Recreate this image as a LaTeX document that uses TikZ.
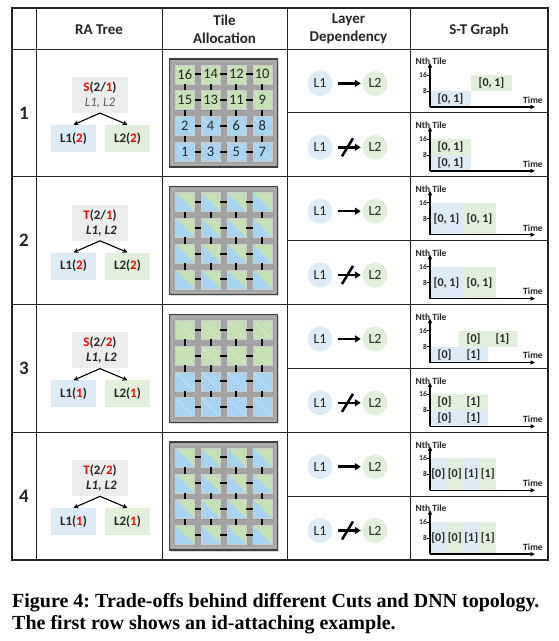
\documentclass[tikz,border=0pt]{standalone}
\usepackage{fontspec}
\setmainfont{Carlito}
\newfontfamily\capserif{Liberation Serif}
\usepackage[HTML]{xcolor}
\usepackage{tikz}
\usetikzlibrary{positioning, arrows.meta, shadows}

\definecolor{boxblue}{HTML}{DDEBF7}
\definecolor{boxgreen}{HTML}{E2EFDA}
\definecolor{boxgray}{HTML}{EDEDED}
\definecolor{tileblue}{HTML}{A6D4F2}
\definecolor{tilegreen}{HTML}{C5E0B3}
\definecolor{meshgray}{HTML}{A3A3A3}
\definecolor{cutred}{HTML}{FF0000}
\definecolor{ink}{HTML}{262626}
\definecolor{softink}{HTML}{595959}

% RA tree: id, row centre, cut, parts, leaf count, font of the layer line
\newcommand{\ratree}[6]{
  \node[rootbox] (root#1) at (100,#2-18) {\textcolor{cutred}{#3}(2/\textcolor{cutred}{#4})\\\itshape#6 L1, L2};
  \node[leafbox, fill=boxblue] (leafa#1) at (73.5,#2+25.5) {L1(\textcolor{cutred}{#5})};
  \node[leafbox, fill=boxgreen] (leafb#1) at (127.5,#2+25.5) {L2(\textcolor{cutred}{#5})};
  \draw[treearrow] (root#1.south) -- (leafa#1.north);
  \draw[treearrow] (root#1.south) -- (leafb#1.north);
}

% tile mesh: id, row centre, upper tiles, lower tiles
\newcommand{\tilemesh}[4]{
  \draw[meshframe] (169.5,#2-54) rectangle (277.5,#2+54);
  \draw[meshinner] (172,#2-51.5) rectangle (275,#2+51.5);
  \foreach \ti in {0,1} \foreach \tj in {0,...,3}
    \node[#3] (#1-\ti-\tj) at (184.8+25.8*\tj,#2-38.7+25.8*\ti) {};
  \foreach \ti in {2,3} \foreach \tj in {0,...,3}
    \node[#4] (#1-\ti-\tj) at (184.8+25.8*\tj,#2-38.7+25.8*\ti) {};
  \foreach \ti in {0,...,3} \foreach \tj/\tk in {0/1,1/2,2/3} {
    \draw[meshlink] (#1-\ti-\tj.east) -- (#1-\ti-\tk.west);
    \draw[meshlink] (#1-\tj-\ti.south) -- (#1-\tk-\ti.north);
  }
}

% layer dependency: id, centre; the cut version strikes the arrow
\newcommand{\layerdep}[2]{
  \node[layercircle, fill=boxblue] (la#1) at (320,#2) {L1};
  \node[layercircle, fill=boxgreen] (lb#1) at (375,#2) {L2};
  \draw[deparrow] (la#1) -- coordinate[pos=0.5] (mid#1) (lb#1);
}
\newcommand{\layercut}[2]{
  \layerdep{#1}{#2}
  \draw[cutbar] ([shift={(-5.5,9)}]mid#1) -- ([shift={(5.5,-9)}]mid#1);
}

% S-T graph: id, top of the sub-row, blocks as x0/x1/t0/t1/colour/label
\newcommand{\stgraph}[3]{
  \foreach \xa/\xb/\ta/\tb/\fc/\lab [count=\k] in {#3}
    \node[stblock, fill=\fc, minimum width=\xb-\xa, minimum height=2*\tb-2*\ta] (blk#1-\k) at (430+\xa/2+\xb/2,#2+58-\ta-\tb) {\lab};
  \coordinate (o#1) at (430,#2+58);
  \coordinate (ytop#1) at (430,#2+14);
  \coordinate (xend#1) at (535,#2+58);
  \draw[stgraphaxis] (o#1) -- (ytop#1);
  \draw[stgraphaxis] (o#1) -- (xend#1);
  \foreach \tv in {8,16} {
    \node[ticklabel] (tk#1-\tv) at (427,#2+58-2*\tv) {\tv};
    \draw[line width=0.6] (tk#1-\tv.east) -- ++(3,0);
  }
  \node[axislabel] (ylab#1) at (431,#2+12.5) {Nth Tile};
  \node[axislabel] (xlab#1) at (533,#2+51) {Time};
}

\begin{document}
\frenchspacing
\begin{tikzpicture}[x=1pt, y=-1pt,
  colhead/.style={font=\bfseries\fontsize{15}{18}\selectfont, align=center, text=ink},
  rownum/.style={font=\bfseries\fontsize{19}{22}\selectfont, text=ink},
  tableframe/.style={line width=1.6, draw=ink},
  tablerule/.style={line width=1, draw=ink},
  rootbox/.style={fill=boxgray, minimum width=56, minimum height=36, inner sep=0, align=center, text=ink, font=\bfseries\fontsize{13}{15}\selectfont},
  leafbox/.style={minimum width=45, minimum height=27, inner sep=0, text=ink, font=\bfseries\fontsize{13}{15}\selectfont},
  treearrow/.style={-{Stealth[length=5pt, width=5pt]}, line width=1.1},
  meshframe/.style={fill=meshgray, draw=black!75, line width=1.4, drop shadow={shadow xshift=1.5pt, shadow yshift=-1.5pt, opacity=0.3}},
  meshinner/.style={draw=black!30, line width=0.8},
  meshtile/.style={minimum size=19, inner sep=0, draw=white!60!gray, line width=0.4, drop shadow={shadow xshift=1pt, shadow yshift=-1pt, opacity=0.35}},
  greentile/.style={meshtile, fill=tilegreen, path picture={\draw[white, opacity=0.5, line width=0.4] (path picture bounding box.north west) -- (path picture bounding box.south east);}},
  bluetile/.style={meshtile, fill=tileblue, path picture={\draw[white, opacity=0.5, line width=0.4] (path picture bounding box.north west) -- (path picture bounding box.south east);}},
  splittile/.style={meshtile, fill=tilegreen, path picture={\fill[tileblue] (path picture bounding box.north west) -- (path picture bounding box.south east) -- (path picture bounding box.south west) -- cycle;}},
  tilenum/.style={font=\fontsize{14.5}{16}\selectfont, text=ink, inner sep=0},
  meshlink/.style={line width=2, draw=black},
  layercircle/.style={circle, minimum size=25, inner sep=0, text=ink, font=\fontsize{14}{16}\selectfont},
  deparrow/.style={-{Triangle[length=6pt, width=7pt]}, line width=2.5, shorten <=5.5pt, shorten >=1.5pt},
  cutbar/.style={line width=2.5},
  stblock/.style={inner sep=0, text=ink, font=\bfseries\fontsize{12}{14}\selectfont},
  stgraphaxis/.style={-{Triangle[length=4.5pt, width=4pt]}, line width=1.3},
  axislabel/.style={inner sep=0, text=ink, font=\bfseries\fontsize{9.5}{11}\selectfont},
  ticklabel/.style={inner sep=0, anchor=east, text=ink, font=\bfseries\fontsize{7.5}{9}\selectfont},
  captionline/.style={inner sep=0, anchor=base west, text=black, font=\capserif\bfseries\fontsize{20}{23}\selectfont}]
\useasboundingbox (0,0) rectangle (558,641);
\fill[white] (0,0) rectangle (558,641);
% headers
\node[colhead] (hTree) at (99,30) {RA Tree};
\node[colhead] (hTile) at (224.5,29) {Tile\\Allocation};
\node[colhead] (hDep) at (348.5,29) {Layer\\Dependency};
\node[colhead] (hGraph) at (479,30) {S-T Graph};
% row numbers
\foreach \k/\y in {1/112.9, 2/240.6, 3/368.4, 4/496.1}
  \node[rownum] (num\k) at (24,\y) {\k};
% row 1
\ratree{1}{112.9}{S}{1}{2}{\mdseries\color{softink}}
\tilemesh{m1}{112.9}{greentile}{bluetile}
\foreach \n [count=\k from 0] in {16,14,12,10,15,13,11,9,2,4,6,8,1,3,5,7} {
  \pgfmathtruncatemacro\ti{\k/4}
  \pgfmathtruncatemacro\tj{mod(\k,4)}
  \node[tilenum] (n\n) at (m1-\ti-\tj) {\n};
}
\layerdep{1a}{83.4}
\layercut{1b}{147.3}
\stgraph{1a}{49}{0/41/0/8/boxblue/{[0, 1]}, 41/82/8/16/boxgreen/{[0, 1]}}
\stgraph{1b}{112.9}{0/41/0/8/boxblue/{[0, 1]}, 0/41/8/16/boxgreen/{[0, 1]}}
% row 2
\ratree{2}{240.6}{T}{1}{2}{}
\tilemesh{m2}{240.6}{splittile}{splittile}
\layerdep{2a}{211.2}
\layercut{2b}{275}
\stgraph{2a}{176.75}{0/33/0/16/boxblue/{[0, 1]}, 33/66/0/16/boxgreen/{[0, 1]}}
\stgraph{2b}{240.6}{0/33/0/16/boxblue/{[0, 1]}, 33/66/0/16/boxgreen/{[0, 1]}}
% row 3
\ratree{3}{368.4}{S}{2}{1}{}
\tilemesh{m3}{368.4}{greentile}{bluetile}
\layerdep{3a}{338.9}
\layercut{3b}{402.8}
\stgraph{3a}{304.5}{0/58/0/8/boxblue/{[0]\hspace{15pt}[1]}, 29/87/8/16/boxgreen/{[0]\hspace{15pt}[1]}}
\stgraph{3b}{368.4}{0/58/0/8/boxblue/{[0]\hspace{15pt}[1]}, 0/58/8/16/boxgreen/{[0]\hspace{15pt}[1]}}
% row 4
\ratree{4}{496.1}{T}{2}{1}{}
\tilemesh{m4}{496.1}{splittile}{splittile}
\layerdep{4a}{466.7}
\layercut{4b}{530.5}
\stgraph{4a}{432.25}{0/16.5/0/16/boxblue/{[0]}, 16.5/33/0/16/boxgreen/{[0]}, 33/49.5/0/16/boxblue/{[1]}, 49.5/66/0/16/boxgreen/{[1]}}
\stgraph{4b}{496.1}{0/16.5/0/16/boxblue/{[0]}, 16.5/33/0/16/boxgreen/{[0]}, 33/49.5/0/16/boxblue/{[1]}, 49.5/66/0/16/boxgreen/{[1]}}
% table rules
\foreach \x in {36,162,287,410}
  \draw[tablerule] (\x,8) -- (\x,560);
\foreach \y in {49,176.75,304.5,432.25}
  \draw[tablerule] (12,\y) -- (548,\y);
\foreach \y in {112.9,240.6,368.4,496.1}
  \draw[tablerule] (287,\y) -- (548,\y);
\draw[tableframe] (12,8) rectangle (548,560);
% caption
\node[captionline] (cap1) at (12,607) {Figure 4: Trade-offs behind different Cuts and DNN topology.};
\node[captionline] (cap2) at (12,629) {The first row shows an id-attaching example.};
\end{tikzpicture}
\end{document}
